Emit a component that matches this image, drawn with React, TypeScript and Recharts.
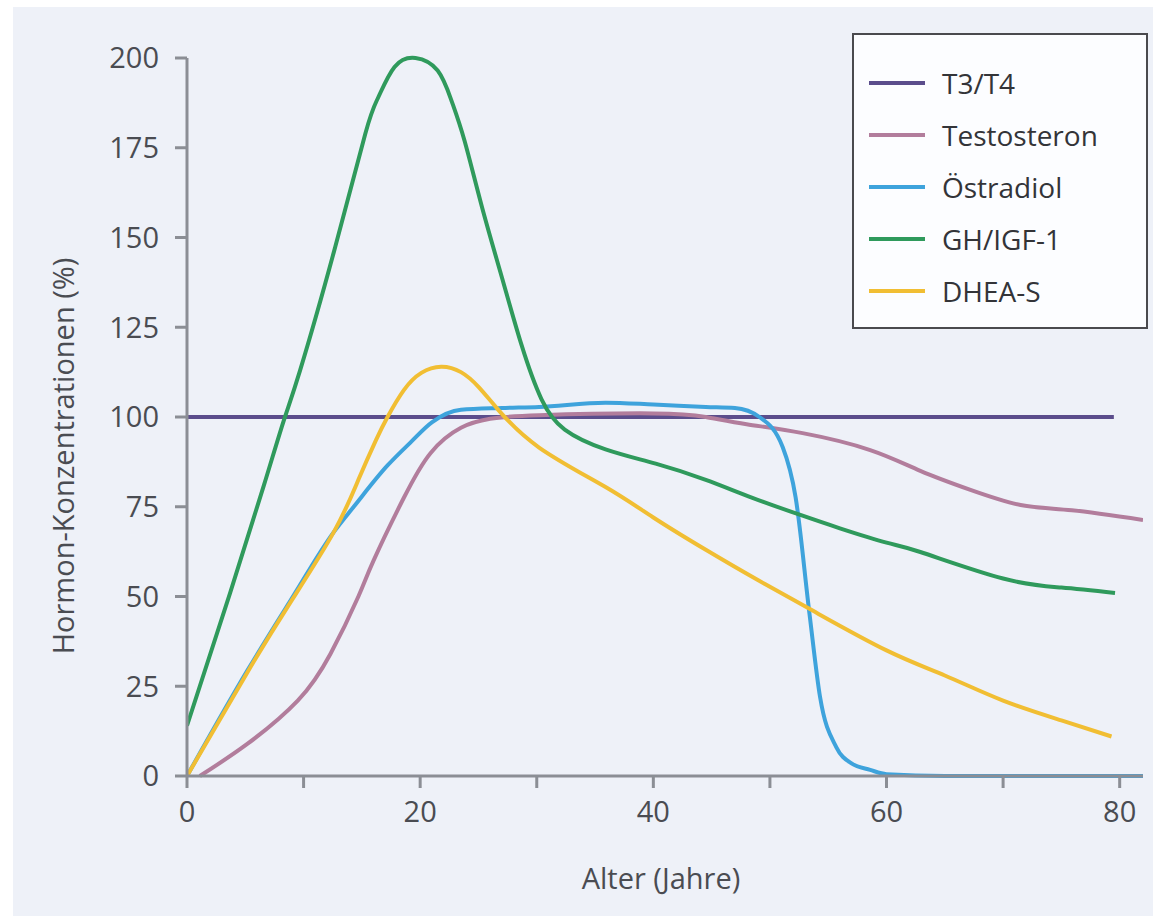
import { CartesianGrid, Legend, Line, LineChart, XAxis, YAxis } from "recharts";

// values (age in years -> % of reference)
const T3_AGE = [0, 79.5];
const T3_VAL = [100, 100];

const TESTO_AGE = [1.1, 5.2, 9.5, 12.3, 14.7, 16, 18.6, 20.9, 23.5, 26, 30.2, 40, 44.5, 48, 52.8, 58.6, 62.9, 67.2, 71.5, 75.9, 82];
const TESTO_VAL = [0, 9, 21, 34, 50, 60, 77.5, 90, 97, 99.5, 100.5, 101, 100, 98, 95.5, 90.8, 85, 79.7, 75.5, 74, 71.3];

const OESTRO_AGE = [0, 5.2, 8.9, 12.6, 14.3, 17.2, 19.2, 21, 23.5, 27, 30.2, 35.9, 40, 44.5, 47, 49.1, 51.1, 52.2, 53.4, 54.3, 55.7, 57, 58.6, 60, 65, 82];
const OESTRO_VAL = [0, 29.5, 49, 68, 75, 86.5, 93, 98.5, 102, 102.5, 102.8, 104, 103.5, 102.8, 102.5, 100, 91.6, 77.7, 45, 22, 8, 3.5, 1.7, 0.5, 0, 0];

const GH_AGE = [0, 3.7, 6.6, 8.3, 9.7, 12.6, 15.3, 16.4, 17.8, 19.6, 21.5, 22.7, 23.8, 25.3, 27, 28.7, 30.4, 32.4, 35.9, 40.2, 44.5, 48.5, 52.8, 56, 60, 62.9, 70, 75, 79.6];
const GH_VAL = [14, 51, 81, 99, 113, 146, 179, 189, 197.5, 200, 196.5, 188, 177, 158.5, 139, 120, 105, 96.5, 91, 87, 82.5, 77.5, 72.5, 69, 65, 62.4, 55, 52.5, 51];

const DHEA_AGE = [0, 5.2, 8.9, 12.6, 14.7, 16.2, 17.2, 18.6, 20.1, 21.8, 23.5, 25, 26.7, 30.2, 35.9, 40, 44.5, 49, 53.7, 60, 65, 70, 75, 79.3];
const DHEA_VAL = [0, 29, 48.5, 68, 82.5, 93.5, 100, 107.5, 112.3, 114, 112.5, 108.4, 102, 91.5, 80.5, 72, 63, 54.5, 46, 35, 28, 21, 15.5, 11];

const X_TICKS = [0, 10, 20, 30, 40, 50, 60, 70, 80];
const Y_TICKS = [0, 25, 50, 75, 100, 125, 150, 175, 200];

function zip(xs: number[], ys: number[]) {
  return xs.map((x, i) => ({ x, y: ys[i] }));
}

const SERIES = [
  { name: "T3/T4", color: "#5b4d8c", curve: "linear", data: zip(T3_AGE, T3_VAL) },
  { name: "Testosteron", color: "#b27d9c", curve: "natural", data: zip(TESTO_AGE, TESTO_VAL) },
  { name: "Östradiol", color: "#3ea3dc", curve: "monotone", data: zip(OESTRO_AGE, OESTRO_VAL) },
  { name: "GH/IGF-1", color: "#2f9a5c", curve: "natural", data: zip(GH_AGE, GH_VAL) },
  { name: "DHEA-S", color: "#f1be33", curve: "natural", data: zip(DHEA_AGE, DHEA_VAL) },
];

const FONT = "'Open Sans', sans-serif";
const AXIS = "#8b8e95";
const TEXT = "#4a4c52";
const TICK = { fontSize: 29, fill: TEXT, fontFamily: FONT };

function LegendBox() {
  return (
    <div
      style={{
        boxSizing: "border-box",
        width: 296,
        height: 296,
        border: "2.5px solid #4a4a4e",
        background: "#fcfdff",
        paddingTop: 22,
        fontFamily: FONT,
      }}
    >
      {SERIES.map((s) => (
        <div key={s.name} style={{ display: "flex", alignItems: "center", height: 52 }}>
          <div style={{ width: 56, height: 4, background: s.color, marginLeft: 15, marginRight: 17 }} />
          <span style={{ fontSize: 28, color: "#333438" }}>{s.name}</span>
        </div>
      ))}
    </div>
  );
}

export default function App() {
  return (
    <div style={{ position: "absolute", left: 0, top: 0, width: 1156, height: 916, background: "#ffffff" }}>
      <div style={{ position: "absolute", left: 13, top: 7, width: 1140, height: 909, background: "#eef1f8" }} />
      <div style={{ position: "absolute", left: 0, top: 0 }}>
        <LineChart width={1156} height={916} margin={{ top: 58, right: 13, bottom: 100, left: 127 }}>
          <CartesianGrid stroke="none" />
          <XAxis
            type="number"
            dataKey="x"
            domain={[0, 82]}
            ticks={X_TICKS}
            interval={0}
            allowDataOverflow
            height={40}
            tickFormatter={(v: number) => (v % 20 === 0 ? String(v) : "")}
            tick={TICK}
            tickSize={12}
            tickMargin={13}
            stroke={AXIS}
            strokeWidth={3}
            label={{
              content: () => (
                <text x={661} y={877} textAnchor="middle" dominantBaseline="central" fontSize={29} fill={TEXT} fontFamily={FONT}>
                  Alter (Jahre)
                </text>
              ),
            }}
          />
          <YAxis
            type="number"
            domain={[0, 200]}
            ticks={Y_TICKS}
            interval={0}
            width={60}
            tick={TICK}
            tickSize={12}
            tickMargin={16}
            stroke={AXIS}
            strokeWidth={3}
            label={{
              content: () => (
                <text
                  x={62}
                  y={456}
                  transform="rotate(-90 62 456)"
                  textAnchor="middle"
                  dominantBaseline="central"
                  fontSize={29}
                  fill={TEXT}
                  fontFamily={FONT}
                >
                  Hormon-Konzentrationen (%)
                </text>
              ),
            }}
          />
          {SERIES.map((s) => (
            <Line
              key={s.name}
              data={s.data}
              dataKey="y"
              name={s.name}
              type={s.curve as "linear" | "natural" | "monotone"}
              stroke={s.color}
              strokeWidth={4}
              dot={false}
              activeDot={false}
              isAnimationActive={false}
            />
          ))}
          <Legend
            layout="vertical"
            align="center"
            verticalAlign="middle"
            wrapperStyle={{ top: 33, left: 852, width: 296, height: 296 }}
            content={() => <LegendBox />}
          />
        </LineChart>
      </div>
    </div>
  );
}
